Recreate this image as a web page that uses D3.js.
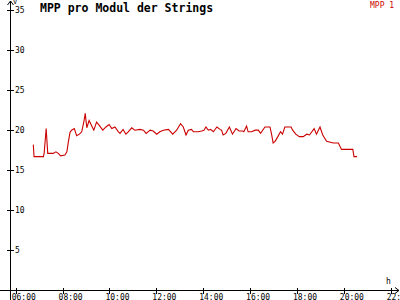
<!DOCTYPE html>
<html><head><meta charset="utf-8">
<script src="https://cdn.jsdelivr.net/npm/d3@7"></script>
<style>html,body{margin:0;padding:0;background:#fff;}svg{display:block;}</style>
</head><body>
<svg id="c" width="400" height="300"></svg>
<script>
const title = "MPP pro Modul der Strings";
const seriesName = "MPP 1";
const xTickHours = [6, 8, 10, 12, 14, 16, 18, 20, 22];
const yTickValues = [5, 10, 15, 20, 25, 30, 35];
const times = ["06:45","06:47","07:11","07:13","07:18","07:22","07:36","07:43","07:49","07:55","08:06","08:11","08:15","08:19","08:23","08:30","08:36","08:43","08:49","08:55","08:58","09:02","09:08","09:15","09:20","09:27","09:34","09:43","09:51","09:59","10:06","10:14","10:23","10:27","10:35","10:42","10:48","10:57","11:05","11:18","11:27","11:34","11:44","11:52","12:01","12:09","12:18","12:31","12:42","12:52","13:02","13:09","13:16","13:22","13:30","13:35","13:47","13:56","14:02","14:07","14:13","14:19","14:26","14:35","14:43","14:47","14:51","14:58","15:07","15:15","15:24","15:32","15:41","15:44","15:51","15:55","16:04","16:13","16:21","16:27","16:38","16:51","16:55","16:59","17:04","17:10","17:18","17:23","17:29","17:45","17:49","17:57","18:06","18:16","18:25","18:32","18:44","18:50","18:59","19:06","19:16","19:33","19:46","19:54","20:23","20:26","20:34"];
const values = [18.2,16.7,16.7,17.2,20.2,17.1,17.1,17.3,17.1,16.8,16.9,17.3,18.6,19.7,20.0,20.2,19.3,19.5,19.8,21.2,22.1,20.3,21.2,20.5,20.0,21.0,20.6,20.0,20.4,20.7,20.2,20.4,19.8,19.6,20.1,19.5,19.8,20.3,20.0,20.1,20.0,19.6,20.0,19.9,19.5,19.8,20.0,20.1,19.5,20.0,20.8,20.4,19.4,20.0,20.1,19.8,19.8,19.9,20.0,20.4,20.0,20.1,19.8,20.4,20.1,20.0,19.4,19.6,20.4,19.5,20.2,19.9,19.9,19.8,20.5,19.8,19.8,20.0,20.0,19.6,20.4,20.4,19.5,18.4,18.6,19.1,19.8,19.5,20.4,20.4,20.0,19.5,19.2,19.2,19.5,19.4,20.2,19.5,20.4,19.4,18.6,18.4,18.4,17.6,17.6,16.7,16.7];

const toHours = t => { const [h, m] = t.split(":").map(Number); return h + m / 60; };
const data = times.map((t, i) => ({ x: toHours(t), y: values[i] }));

const svg = d3.select("#c");
const x = d3.scaleLinear().domain([6, 22]).range([15.7, 390.7]);
const y = d3.scaleLinear().domain([0, 35]).range([290.4, 10]);
const font = "'DejaVu Sans Mono', 'Liberation Mono', monospace";
const ax = 10.5, ay = Math.round(y(0)) + 0.5;

const g = svg.append("g").attr("stroke", "#000").attr("stroke-width", 1).attr("fill", "none").attr("shape-rendering", "crispEdges");
// axes lines
g.append("line").attr("x1", ax).attr("x2", ax).attr("y1", 1).attr("y2", 300);
g.append("line").attr("x1", 0).attr("x2", 399).attr("y1", ay).attr("y2", ay);
// arrows
g.append("path").attr("d", `M${ax-3},${5} L${ax},${1} L${ax+3},${5}`).attr("shape-rendering", "auto");
g.append("path").attr("d", `M${395},${ay-3} L${399},${ay} L${395},${ay+3}`).attr("shape-rendering", "auto");
// y ticks
yTickValues.forEach(v => {
  const py = Math.round(y(v)) + 0.5;
  g.append("line").attr("x1", 7).attr("x2", 14).attr("y1", py).attr("y2", py);
});
// x ticks
xTickHours.forEach(h => {
  const px = Math.round(x(h)) + 0.5;
  g.append("line").attr("x1", px).attr("x2", px).attr("y1", ay - 3).attr("y2", ay + 3);
});

const t = svg.append("g").attr("font-family", font).attr("fill", "#000");
yTickValues.forEach(v => {
  t.append("text").attr("x", 15).attr("y", y(v)).attr("dy", "0.35em").attr("font-size", 8).text(v);
});
xTickHours.forEach(h => {
  t.append("text").attr("x", x(h) - 4).attr("y", 299.5).attr("font-size", 8).text(d3.format("02d")(h) + ":00");
});
t.append("text").attr("x", 13).attr("y", 4).attr("font-size", 7).text("V");
t.append("text").attr("x", 386).attr("y", 284).attr("font-size", 8).text("h");
t.append("text").attr("x", 40).attr("y", 11.5).attr("font-size", 11.5).attr("font-weight", "bold").text(title);
t.append("text").attr("x", 370).attr("y", 8).attr("font-size", 8).attr("fill", "#cc0000").text(seriesName);

const line = d3.line().x(d => x(d.x)).y(d => y(d.y));
svg.append("path").datum(data).attr("d", line).attr("fill", "none").attr("stroke", "#cc0000").attr("stroke-width", 1.1);
</script>
</body></html>
